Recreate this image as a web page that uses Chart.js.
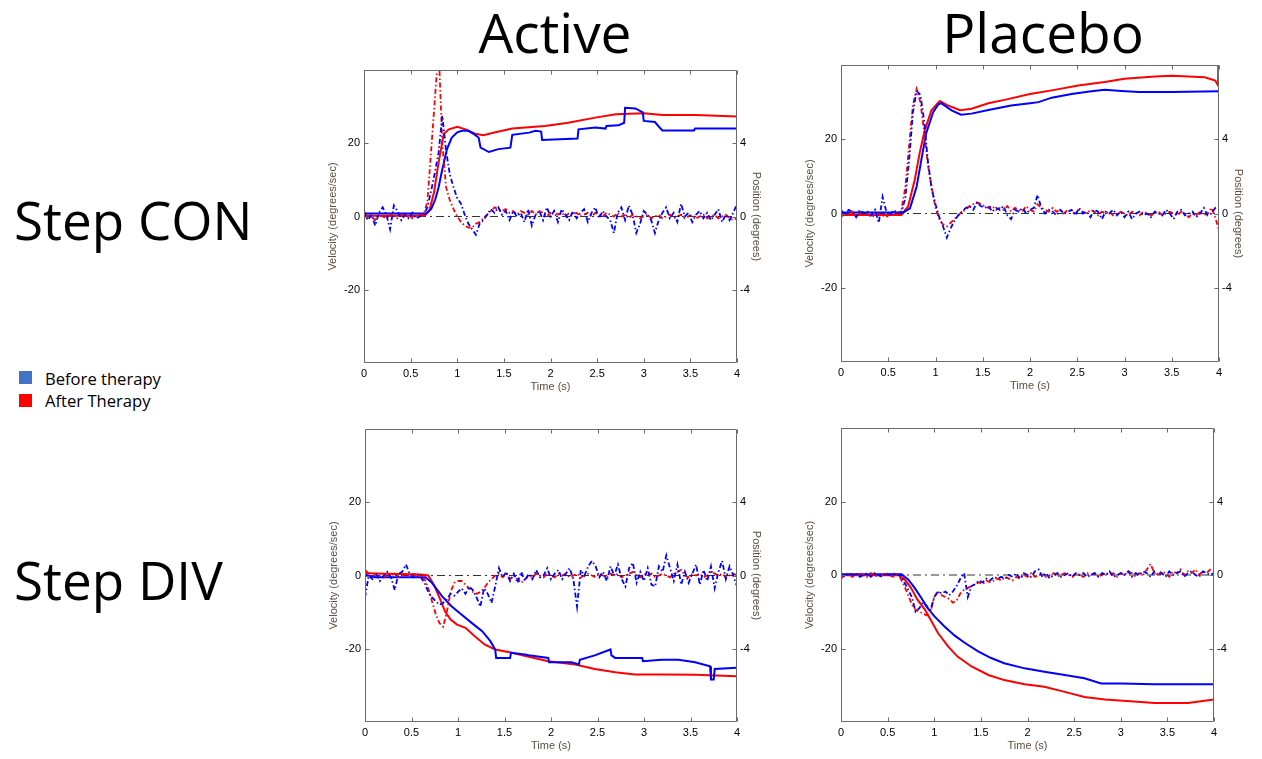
<!DOCTYPE html>
<html><head><meta charset="utf-8">
<script src="https://cdn.jsdelivr.net/npm/chart.js@4.4.1/dist/chart.umd.min.js"></script>
<style>
html,body{margin:0;padding:0;background:#fff;width:1262px;height:759px;overflow:hidden;}
canvas{position:absolute;}
svg{position:absolute;left:0;top:0;}
</style></head><body>
<svg width="1262" height="759" style="font-family:'Open Sans'">
  <text x="555" y="53" font-size="55" text-anchor="middle" fill="#000">Active</text>
  <text x="1043" y="53" font-size="55" text-anchor="middle" fill="#000">Placebo</text>
  <text x="14" y="240" font-size="53" fill="#000">Step CON</text>
  <text x="14" y="600" font-size="53" fill="#000">Step DIV</text>
  <rect x="19" y="371" width="13" height="13" fill="#4472C4"/>
  <rect x="19" y="394" width="13" height="13" fill="#FF0000"/>
  <text x="45" y="385" font-size="16.6" fill="#000">Before therapy</text>
  <text x="45" y="407" font-size="16.6" fill="#000">After Therapy</text>
</svg>
<canvas id="c1" width="453" height="333" style="left:314px;top:65px;width:453px;height:333px"></canvas>
<canvas id="c2" width="458" height="337" style="left:791px;top:60px;width:458px;height:337px"></canvas>
<canvas id="c3" width="452" height="333" style="left:315px;top:424px;width:452px;height:333px"></canvas>
<canvas id="c4" width="453" height="334" style="left:791px;top:423px;width:453px;height:334px"></canvas>
<script>
// ---- axis ticks ----
const timeTicks = [0,0.5,1,1.5,2,2.5,3,3.5,4];
const velTicks = [-20,0,20];
const posTicks = [-4,0,4];

// ---- velocity sample times (s) ----
const velTime = [
0,0.04,0.08,0.12,0.16,0.2,0.24,0.28,0.32,0.36,
0.4,0.44,0.48,0.52,0.56,0.6,0.64,0.68,0.72,0.76,
0.8,0.84,0.88,0.92,0.96,1,1.04,1.08,1.12,1.16,
1.2,1.24,1.28,1.32,1.36,1.4,1.44,1.48,1.52,1.56,
1.6,1.64,1.68,1.72,1.76,1.8,1.84,1.88,1.92,1.96,
2,2.04,2.08,2.12,2.16,2.2,2.24,2.28,2.32,2.36,
2.4,2.44,2.48,2.52,2.56,2.6,2.64,2.68,2.72,2.76,
2.8,2.84,2.88,2.92,2.96,3,3.04,3.08,3.12,3.16,
3.2,3.24,3.28,3.32,3.36,3.4,3.44,3.48,3.52,3.56,
3.6,3.64,3.68,3.72,3.76,3.8,3.84,3.88,3.92,3.96,
4];

// ---- Step CON / Active : velocity (deg/s) ----
const conActiveVelBefore = [
1.5,-1,0.5,-2.5,1,2.5,0.5,-3.5,3,1.5,
-1,0.5,-0.5,1,-0.5,0,0.5,2.5,7,12,
17.5,27.5,18,11.5,8,5,3.5,0.5,-2,-3.5,
-5,-2,-1,0.5,2,1,2.5,0.5,1.5,-1,
1.5,0,1,-1.5,2,-2.5,0.5,1.5,-1,2.5,
0,1.5,-1.5,2,0.5,-1,1.5,-0.5,1,2,
-1.5,1,2.5,-0.5,1.5,0,-1,-4.5,1,2.5,
-1,3,0.5,-4.5,-2,1.5,0.5,-1,-4.5,-1,
1,2.5,-0.5,1,-1.5,3.5,0,1,-1.5,0.5,
1.5,-0.5,1,-1,0.5,2,-1.5,0.5,-1,1,
3.5];
const conActiveVelAfter = [
0.5,-0.5,0,-1,0.5,0,-0.5,0.5,0,-0.5,
0.5,0,0.5,-0.5,0,0.5,0.5,4,18,32,
46,20,8,4.5,2,0,-1.5,-2.5,-3,-3,
-2,-1.5,-0.5,0.5,1.5,2.5,2,1.5,2,1,
1.5,0.5,1.5,1,0.5,1.5,0.5,1.5,1,0,
1,1.5,0.5,1,0,1,0.5,1,0,0.5,
1,0,1,0.5,0,1,0.5,0,1,0,
0.5,-0.5,0.5,0,-0.5,0,0.5,-0.5,0,0.5,
-0.5,0,0.5,-0.5,0,0.5,-0.5,0,0.5,-0.5,
0,0.5,-0.5,0,0.5,-0.5,0,0.5,-0.5,-1,
-0.5];
// ---- Step CON / Active : position (deg) ----
const conActivePosBeforeT = [0,0.3,0.66,0.72,0.765,0.8,0.84,0.89,0.94,1,1.05,1.12,1.18,1.23,1.25,1.34,1.44,1.57,1.59,1.77,1.84,1.9,1.91,2.29,2.3,2.48,2.59,2.6,2.73,2.79,2.8,2.91,2.99,3,3.12,3.17,3.2,3.54,3.55,4];
const conActivePosBefore  = [0.16,0.16,0.16,0.4,0.94,1.6,2.58,3.68,4.3,4.6,4.68,4.68,4.5,4.3,3.76,3.52,3.68,3.76,4.46,4.58,4.68,4.64,4.18,4.26,4.76,4.86,4.8,4.94,4.98,5.12,5.94,5.9,5.68,5.22,5.16,4.86,4.7,4.7,4.8,4.8];
const conActivePosAfterT = [0,0.65,0.7,0.75,0.8,0.855,0.91,1,1.09,1.19,1.28,1.41,1.59,1.94,2.19,2.48,2.7,3,3.2,3.55,4];
const conActivePosAfter  = [0.04,0.04,0.3,1.3,2.94,4.5,4.76,4.9,4.76,4.52,4.44,4.6,4.8,4.94,5.12,5.4,5.58,5.64,5.54,5.54,5.46];

// ---- Step CON / Placebo : velocity ----
const conPlaceboVelBefore = [
1,-0.5,1,0.5,-1,1,0,0.5,-0.5,1,
-2.5,4.5,0.5,-0.5,1,0,0.5,4,14,27,
33,32,25,14,6.5,2.5,-1,-3.5,-6.5,-4,
-2,-0.5,0.5,1.5,2,1,3,2,1.5,2,
0.5,1.5,1,2,-0.5,-1.5,1,0.5,1.5,0,
1,1.5,5,1.5,0,1,0.5,-0.5,1,0,
0.5,1,-0.5,1.5,0,0.5,-1,1,0.5,-1.5,
0.5,0,1,-0.5,0.5,-1,0.5,-1.5,0,0.5,
-0.5,0,-1,0.5,0,-0.5,1,0,-1.5,0.5,
1,-0.5,0,0.5,-1,0,1.5,-0.5,0,1.5,
2];
const conPlaceboVelAfter = [
-1,0,-0.5,0.5,-1,0,-0.5,0,-1,-0.5,
0,-0.5,-1,0,-0.5,0,1,7,18,29,
33.5,30,22,13,7,1.5,-1.5,-3,-3.5,-2.5,
-1.5,-0.5,0.5,1,2,2.5,3,2.5,2,1.5,
2,1,1.5,1,2,0.5,1.5,1,0.5,2,
1,0.5,2.5,1.5,1,0.5,1.5,0.5,1,0,
1,0.5,0,1,0.5,0,1,0.5,-0.5,0.5,
0,0.5,-0.5,0,0.5,0,-0.5,0.5,0,-0.5,
0.5,0,-0.5,0,0.5,-0.5,0,0.5,0,-0.5,
0.5,0,-1,0,-0.5,0.5,-0.5,0,1.5,-1,
-4.5];
// ---- Step CON / Placebo : position ----
const conPlaceboPosBeforeT = [0,0.66,0.73,0.8,0.85,0.9,0.975,1.03,1.06,1.17,1.27,1.38,1.56,1.8,2,2.09,2.23,2.44,2.65,2.79,2.97,3.15,3.5,4];
const conPlaceboPosBefore  = [0.06,0.06,0.28,1.44,2.88,4.3,5.46,5.88,5.94,5.56,5.32,5.38,5.58,5.82,5.94,6,6.24,6.44,6.58,6.66,6.6,6.54,6.54,6.58];
const conPlaceboPosAfterT = [0,0.64,0.71,0.78,0.83,0.886,0.957,1.045,1.13,1.26,1.38,1.56,1.73,2,2.26,2.51,2.79,3,3.32,3.5,3.85,3.96,3.99,4];
const conPlaceboPosAfter  = [-0.08,-0.08,0.38,1.8,3.2,4.48,5.56,6.06,5.82,5.56,5.64,5.94,6.12,6.44,6.66,6.9,7.08,7.26,7.38,7.42,7.34,7.16,6.9,12];

// ---- Step DIV / Active : velocity ----
const divActiveVelBefore = [
-6,0,-1,0.5,-1.5,0,1,-0.5,-4,0.5,
1,3,0.5,-0.5,0,-0.5,-2,-4.5,-6,-7,
-8,-7.5,-6.5,-5,-5.5,-4.5,-3.5,-5,-3,-4,
-6,-8.5,-3.5,-5,-7.5,-3,2,-0.5,1,-1.5,
0.5,-2,1,-1.5,0.5,-1,1.5,-0.5,0,2,
-1,0.5,1.5,-1,0.5,2,-1,-8.5,1.5,0,
2.5,4,2.5,-0.5,1,-1.5,2.5,0,3,-1,
-3,2,3.5,-2,1,-1.5,2,-2.5,-3,2.5,
1,5.5,2,-1.5,3,-2.5,1,-2,0.5,3,
-2.5,1.5,-1.5,2.5,-3.5,1,4,-1,2.5,0,
-3];
const divActiveVelAfter = [
1.5,0.5,-0.5,0.5,0,-0.5,0.5,0,0.5,-0.5,
0,0.5,0,0.5,0,-0.5,-1,-3.5,-7,-10.5,
-13,-14,-10,-4.5,-2,-1.5,-1.5,-2.5,-3.5,-4.5,
-5,-4.5,-3.5,-2,-1,0,0.5,-0.5,0.5,-1,
0,-1,-2,-1,0,-0.5,0.5,0,-0.5,0.5,
0,-0.5,0.5,0,0.5,-0.5,0,0.5,-0.5,0,
0.5,0,-0.5,0.5,0,-0.5,0.5,0,0.5,-0.5,
0,0.5,1,0,-0.5,0.5,0,0.5,-0.5,0,
0.5,0,-0.5,0.5,1,1.5,0,-0.5,0.5,0,
0.5,-0.5,0,1,0.5,0,0.5,-0.5,0,0.5,
0];
// ---- Step DIV / Active : position ----
const divActivePosBeforeT = [0,0.1,0.5,0.65,0.72,0.83,0.93,1.04,1.15,1.26,1.35,1.4,1.41,1.56,1.57,1.72,1.76,1.97,1.98,2.22,2.3,2.31,2.47,2.64,2.65,2.69,2.98,2.99,3.19,3.37,3.55,3.71,3.72,3.75,3.76,4];
const divActivePosBefore  = [0.04,-0.1,-0.1,-0.1,-0.4,-1.14,-1.68,-2.14,-2.6,-3.04,-3.6,-4.04,-4.5,-4.5,-4.22,-4.32,-4.36,-4.5,-4.74,-4.74,-4.86,-4.6,-4.36,-4.04,-4.36,-4.5,-4.5,-4.68,-4.6,-4.6,-4.74,-4.96,-5.68,-5.68,-5.1,-5.04];
const divActivePosAfterT = [0,0.6,0.68,0.74,0.81,0.86,0.92,0.99,1.08,1.18,1.29,1.4,1.58,1.76,1.97,2.26,2.47,2.69,2.9,3.19,3.55,4];
const divActivePosAfter  = [0.12,0.06,0,-0.5,-1.32,-1.96,-2.4,-2.68,-2.86,-3.32,-3.78,-4.04,-4.22,-4.44,-4.68,-4.86,-5.1,-5.28,-5.4,-5.4,-5.42,-5.5];

// ---- Step DIV / Placebo : velocity ----
const divPlaceboVelBefore = [
0.5,-0.5,0.5,0,0.5,-0.5,0,0.5,-0.5,0.5,
0,-0.5,0.5,0,0.5,0,0,-2,-4,-6,
-10,-9,-7.5,-8.5,-9.5,-6,-4.5,-5,-4.5,-5.5,
-4.5,-3,-1,0.5,-6,-3,-2.5,-1.5,-2,-1,
-1.5,-0.5,-1,-0.5,-1,0,-0.5,0.5,-1,0.5,
0,-0.5,1,1.5,-0.5,0.5,-1,0,0.5,-0.5,
0,0.5,-0.5,0.5,0,0.5,-0.5,0,0.5,-0.5,
0.5,0,1,-0.5,0,0.5,0,1,-0.5,0.5,
0,1,0.5,-0.5,1,0,0.5,-0.5,1,0,
0.5,1,-0.5,0.5,1,0,-0.5,1,0.5,0,
0.5];
const divPlaceboVelAfter = [
-1,0,0.5,-0.5,0,0.5,0,-0.5,0.5,0,
-0.5,0,0.5,0,-0.5,0,-1,-3,-5.5,-8,
-9.5,-10,-10.5,-11,-10,-6,-4.5,-5.5,-6,-6.5,
-7.5,-7,-5,-4,-3.5,-3,-2.5,-2,-2.5,-1.5,
-2,-1.5,-1,-1.5,-0.5,-1,-1.5,-0.5,-1,0,
-0.5,0.5,-0.5,0,0.5,-0.5,0,0.5,-0.5,0,
0.5,0,-0.5,0.5,0,-0.5,0.5,0,0.5,-0.5,
0,0.5,0,0.5,-0.5,0.5,0,1,0.5,-0.5,
0.5,0,1.5,3,0.5,0,1,0.5,-0.5,1,
0.5,1.5,0,1,0.5,1.5,0,1,0.5,1.5,
1];
// ---- Step DIV / Placebo : position ----
const divPlaceboPosBeforeT = [0,0.65,0.72,0.79,0.86,0.93,1,1.11,1.22,1.33,1.47,1.61,1.75,1.97,2.18,2.4,2.61,2.79,3,3.36,3.72,4];
const divPlaceboPosBefore  = [0.04,0.04,-0.24,-0.7,-1.24,-1.8,-2.24,-2.8,-3.3,-3.7,-4.16,-4.52,-4.8,-5.08,-5.26,-5.44,-5.62,-5.9,-5.9,-5.94,-5.94,-5.94];
const divPlaceboPosAfterT = [0,0.62,0.68,0.75,0.82,0.9,0.97,1.04,1.15,1.25,1.4,1.58,1.75,1.97,2.18,2.4,2.61,2.83,3.18,3.36,3.72,3.82,4];
const divPlaceboPosAfter  = [-0.02,-0.02,-0.22,-0.7,-1.34,-1.88,-2.52,-3.16,-3.9,-4.44,-4.98,-5.44,-5.72,-5.94,-6.08,-6.36,-6.64,-6.78,-6.9,-6.96,-6.96,-6.9,-6.78];

const zeroLineT = [0,4];
const zeroLineV = [0,0];

// ---- rendering ----
const BLUE = '#0000FF', RED = '#FF0000';
const TICKFONT = {family:"'Liberation Sans', Arial, sans-serif", size:11};
const TITLEC = '#5e4e40';

function pts(t, v){ return t.map((x,i)=>({x:x, y:v[i]})); }

const boxPlugin = {
  id:'boxTicks',
  afterDatasetsDraw(chart){
    const {ctx, chartArea:a, scales} = chart;
    ctx.save();
    ctx.strokeStyle = '#6a6a6a';
    ctx.lineWidth = 1;
    const L = Math.round(a.left)+0.5, R = Math.round(a.right)-0.5,
          T = Math.round(a.top)+0.5, B = Math.round(a.bottom)-0.5;
    ctx.beginPath();
    ctx.rect(L, T, R-L, B-T);
    timeTicks.forEach(v=>{
      const px = Math.round(scales.x.getPixelForValue(v))+0.5;
      ctx.moveTo(px,B); ctx.lineTo(px,B-4);
      ctx.moveTo(px,T); ctx.lineTo(px,T+4);
    });
    velTicks.forEach(v=>{
      const py = Math.round(scales.y.getPixelForValue(v))+0.5;
      ctx.moveTo(L,py); ctx.lineTo(L+4,py);
    });
    posTicks.forEach(v=>{
      const py = Math.round(scales.y2.getPixelForValue(v))+0.5;
      ctx.moveTo(R,py); ctx.lineTo(R-4,py);
    });
    ctx.stroke();
    ctx.restore();
  }
};

function makeChart(id, velB, velA, posBT, posB, posAT, posA, showRight){
  const dashDot = [5,2.5,1.5,2.5];
  const noGrid = {display:false, drawTicks:false, tickLength:0};
  new Chart(document.getElementById(id), {
    type:'line',
    data:{datasets:[
      {data:pts(velTime, velB), borderColor:BLUE, borderWidth:1.8, borderDash:dashDot, yAxisID:'y'},
      {data:pts(velTime, velA), borderColor:RED, borderWidth:1.8, borderDash:dashDot, yAxisID:'y'},
      {data:pts(posBT, posB), borderColor:BLUE, borderWidth:2, yAxisID:'y2'},
      {data:pts(posAT, posA), borderColor:RED, borderWidth:2, yAxisID:'y2'},
      {data:pts(zeroLineT, zeroLineV), borderColor:'#333', borderWidth:1.2, borderDash:[8,4,2,4], yAxisID:'y'}
    ]},
    options:{
      responsive:false, animation:false, devicePixelRatio:1,
      layout:{padding:{top:5,left:0,right:0,bottom:0}},
      elements:{point:{radius:0}, line:{tension:0, fill:false}},
      datasets:{line:{clip:0}},
      plugins:{legend:{display:false}, tooltip:{enabled:false}},
      scales:{
        x:{type:'linear', position:'bottom', min:0, max:4,
           grid:noGrid, border:{display:false},
           afterBuildTicks:s=>{s.ticks = timeTicks.map(v=>({value:v}));},
           ticks:{font:TICKFONT, color:'#000', padding:4, maxRotation:0, autoSkip:false, callback:v=>String(v)},
           title:{display:true, text:'Time (s)', color:TITLEC, font:{family:TICKFONT.family,size:11}, padding:{top:0,bottom:4}},
           afterFit:s=>{s.height=35; s.paddingLeft=0; s.paddingRight=0;}},
        y:{type:'linear', position:'left', min:-40, max:40,
           grid:noGrid, border:{display:false},
           afterBuildTicks:s=>{s.ticks = velTicks.map(v=>({value:v}));},
           ticks:{font:TICKFONT, color:'#000', padding:4, callback:v=>String(v)},
           title:{display:true, text:'Velocity (degrees/sec)', color:TITLEC, font:{family:TICKFONT.family,size:11}, padding:{top:12,bottom:0}},
           afterFit:s=>{s.width=50; s.paddingTop=0; s.paddingBottom=0;}},
        y2:{type:'linear', position:'right', min:-8, max:8,
           grid:noGrid, border:{display:false},
           afterBuildTicks:s=>{s.ticks = posTicks.map(v=>({value:v}));},
           ticks:{font:TICKFONT, color:'#000', padding:3, callback:v=>String(v)},
           title:{display:showRight, text:'Position (degrees)', color:TITLEC, font:{family:TICKFONT.family,size:11}, padding:{top:4,bottom:0}},
           afterFit:s=>{s.width=30; s.paddingTop=0; s.paddingBottom=0;}}
      }
    },
    plugins:[boxPlugin]
  });
}

makeChart('c1', conActiveVelBefore, conActiveVelAfter, conActivePosBeforeT, conActivePosBefore, conActivePosAfterT, conActivePosAfter, true);
makeChart('c2', conPlaceboVelBefore, conPlaceboVelAfter, conPlaceboPosBeforeT, conPlaceboPosBefore, conPlaceboPosAfterT, conPlaceboPosAfter, true);
makeChart('c3', divActiveVelBefore, divActiveVelAfter, divActivePosBeforeT, divActivePosBefore, divActivePosAfterT, divActivePosAfter, true);
makeChart('c4', divPlaceboVelBefore, divPlaceboVelAfter, divPlaceboPosBeforeT, divPlaceboPosBefore, divPlaceboPosAfterT, divPlaceboPosAfter, false);
</script>
</body></html>
